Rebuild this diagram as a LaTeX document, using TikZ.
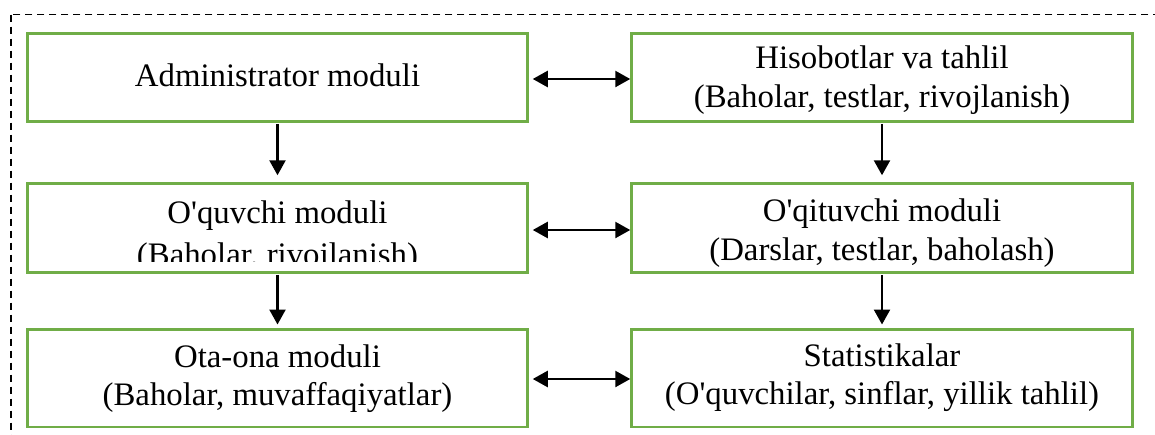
\documentclass[tikz,border=0pt]{standalone}
\usepackage{fontspec}
\setmainfont{Liberation Serif}
\usetikzlibrary{arrows.meta}
\definecolor{boxgreen}{HTML}{70AD47}
\newcommand\apos{\textquotesingle}
\tikzset{
  module/.style={draw=boxgreen, line width=2.5pt, fill=white, inner sep=0pt},
  modtext/.style={anchor=base, inner sep=0pt, font=\fontsize{32.8}{39}\selectfont},
  frame/.style={draw=black, line width=1.6pt, dash pattern=on 7.5pt off 4.5pt},
  link/.style={draw=black, line width=2.4pt},
  tip/.style={-{Triangle[length=15pt,width=16pt]}},
  twotip/.style={{Triangle[length=15pt,width=16pt]}-{Triangle[length=15pt,width=16pt]}}
}
\begin{document}
\begin{tikzpicture}[x=1pt,y=-1pt]
\useasboundingbox (0,0) rectangle (1155,434);
\clip (0,0) rectangle (1155,434);

% dashed outer frame (runs past the right and bottom edges)
\draw[frame] (10.7,14.5) rectangle (1180,470);

% module boxes
\node[module, minimum width=500pt, minimum height=88pt] (adm) at (277.5,77.5) {};
\node[module, minimum width=501pt, minimum height=88pt] (rep) at (882,77.5) {};
\node[module, minimum width=500pt, minimum height=89pt] (stu) at (277.5,228) {};
\node[module, minimum width=501pt, minimum height=89pt] (tea) at (882,228) {};
\node[module, minimum width=500pt, minimum height=97.5pt] (par) at (277.5,378) {};
\node[module, minimum width=501pt, minimum height=97.5pt] (sta) at (882,378) {};

% texts
\node[modtext] (admA) at (277.5,86) {Administrator moduli};

\node[modtext] (repA) at (882,68) {Hisobotlar va tahlil};
\node[modtext] (repB) at (882,107) {(Baholar, testlar, rivojlanish)};

\begin{scope}
  \clip (29,185) rectangle (526,261);
  \node[modtext] (stuA) at (277.5,223) {O\apos quvchi moduli};
  \node[modtext] (stuB) at (277.5,265) {(Baholar, rivojlanish)};
\end{scope}

\node[modtext] (teaA) at (882,221) {O\apos qituvchi moduli};
\node[modtext] (teaB) at (882,260) {(Darslar, testlar, baholash)};

\node[modtext] (parA) at (277.5,367) {Ota-ona moduli};
\node[modtext] (parB) at (277.5,405) {(Baholar, muvaffaqiyatlar)};

\node[modtext] (staA) at (882,366) {Statistikalar};
\node[modtext] (staB) at (882,404) {(O\apos quvchilar, sinflar, yillik tahlil)};

% horizontal two-way links
\draw[link, twotip, shorten <=4pt] ([yshift=-1.5pt]adm.east) -- ([yshift=-1.5pt]rep.west);
\draw[link, twotip, shorten <=4pt] ([yshift=-2pt]stu.east) -- ([yshift=-2pt]tea.west);
\draw[link, twotip, shorten <=4pt] ([yshift=-1pt]par.east) -- ([yshift=-1pt]sta.west);

% vertical links
\draw[link, tip, shorten <=1pt, shorten >=7pt] (adm.south) -- (stu.north);
\draw[link, tip, shorten <=1pt, shorten >=7pt] (rep.south) -- (tea.north);
\draw[link, tip, shorten <=1pt, shorten >=3.5pt] (stu.south) -- (par.north);
\draw[link, tip, shorten <=1pt, shorten >=3.5pt] (tea.south) -- (sta.north);
\end{tikzpicture}
\end{document}
